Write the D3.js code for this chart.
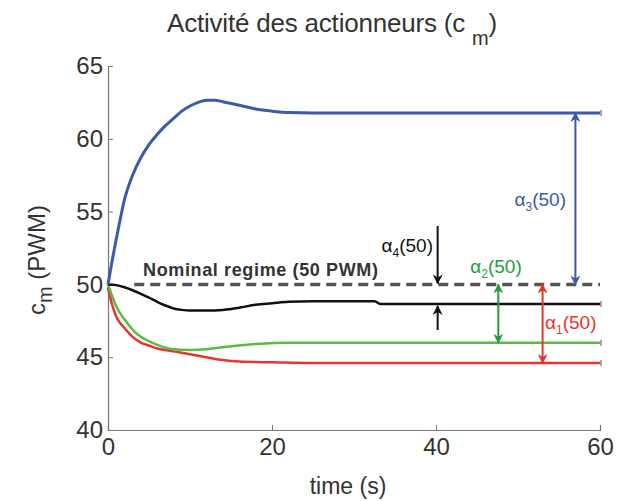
<!DOCTYPE html>
<html>
<head>
<meta charset="utf-8">
<script src="https://cdn.jsdelivr.net/npm/d3@7"></script>
<style>
  body { margin: 0; background: #fff; }
  svg text { font-family: "Liberation Sans", Arial, sans-serif; }
</style>
</head>
<body>
<div id="chart"></div>
<script>
// series (time in s, value in PWM)
const tBlue  = [0, 0.5, 1, 1.5, 2, 3, 4, 5, 6, 7, 8, 9, 10, 11, 12, 13, 14, 16, 18, 20, 22, 25, 60];
const vBlue  = [50, 51.6, 53.1, 54.5, 55.8, 57.5, 58.7, 59.6, 60.3, 60.9, 61.4, 61.9, 62.25, 62.5, 62.65, 62.65, 62.55, 62.3, 62.05, 61.9, 61.8, 61.78, 61.78];
const tBlack = [0, 1, 2, 3, 4, 5, 6, 7, 8, 9, 10, 12, 14, 16, 18, 20, 22, 25, 32.5, 33.2, 60];
const vBlack = [50, 49.95, 49.8, 49.6, 49.35, 49.1, 48.8, 48.55, 48.35, 48.25, 48.2, 48.2, 48.25, 48.4, 48.6, 48.7, 48.8, 48.85, 48.85, 48.65, 48.65];
const tGreen = [0, 0.5, 1, 2, 3, 4, 5, 6, 7, 8, 10, 12, 15, 18, 22, 60];
const vGreen = [50, 49.2, 48.5, 47.6, 46.9, 46.4, 46.1, 45.85, 45.65, 45.55, 45.5, 45.55, 45.75, 45.9, 46.0, 46.0];
const tRed   = [0, 0.5, 1, 2, 3, 4, 5, 6, 8, 10, 12, 14, 16, 20, 25, 60];
const vRed   = [49.8, 48.6, 47.8, 47.0, 46.4, 46.0, 45.8, 45.6, 45.4, 45.2, 45.0, 44.8, 44.7, 44.65, 44.6, 44.6];

const xTicks = [0, 20, 40, 60];
const yTicks = [40, 45, 50, 55, 60, 65];
const nominal = 50;
const nominalStart = 3.2;

// deviation arrows: x position, from, to
const arrows = [
  {t: 57.0, from: 61.78, to: 50, color: "#3c5aa8"},
  {t: 47.6, from: 50, to: 46.0, color: "#249c3c"},
  {t: 53.0, from: 50, to: 44.6, color: "#e8352c"}
];

const width = 621, height = 501;
const margin = {top: 66, right: 21, bottom: 71, left: 108};

const svg = d3.select("#chart").append("svg")
  .attr("width", width)
  .attr("height", height);

const x = d3.scaleLinear().domain([0, 60]).range([margin.left, width - margin.right]);
const y = d3.scaleLinear().domain([40, 65]).range([height - margin.bottom, margin.top]);

const defs = svg.append("defs");
function marker(id, color) {
  defs.append("marker")
    .attr("id", id)
    .attr("viewBox", "0 0 10 10")
    .attr("refX", 9).attr("refY", 5)
    .attr("markerWidth", 5).attr("markerHeight", 5)
    .attr("orient", "auto-start-reverse")
    .append("path").attr("d", "M0,0 L10,5 L0,10 L3,5 Z").attr("fill", color);
}
arrows.forEach((a, i) => marker("arr" + i, a.color));
marker("arrK", "#111");

// axes (left and bottom only, ticks inward)
svg.append("g")
  .attr("transform", `translate(0,${y(40)})`)
  .call(d3.axisBottom(x).tickValues(xTicks).tickSize(-5).tickPadding(8).tickFormat(d3.format("d")))
  .call(g => g.select(".domain").attr("stroke", "#777").attr("stroke-width", 1.2))
  .call(g => g.selectAll(".tick line").attr("stroke", "#777"))
  .call(g => g.selectAll("text").attr("font-size", 24).attr("fill", "#333"));

svg.append("g")
  .attr("transform", `translate(${x(0)},0)`)
  .call(d3.axisLeft(y).tickValues(yTicks).tickSize(-5).tickPadding(5).tickFormat(d3.format("d")))
  .call(g => g.select(".domain").attr("stroke", "#777").attr("stroke-width", 1.2))
  .call(g => g.selectAll(".tick line").attr("stroke", "#777"))
  .call(g => g.selectAll("text").attr("font-size", 24).attr("fill", "#333"));

// nominal regime dashed line
svg.append("line")
  .attr("x1", x(nominalStart)).attr("x2", x(60))
  .attr("y1", y(nominal)).attr("y2", y(nominal))
  .attr("stroke", "#555").attr("stroke-width", 3.5)
  .attr("stroke-dasharray", "10,6");

svg.append("text")
  .attr("x", 143).attr("y", 276)
  .attr("font-size", 18).attr("font-weight", "bold").attr("fill", "#333")
  .attr("textLength", 235)
  .text("Nominal regime (50 PWM)");

const line = d3.line()
  .x(d => x(d[0]))
  .y(d => y(d[1]))
  .curve(d3.curveMonotoneX);

const series = [
  {t: tRed, v: vRed, color: "#e8352c"},
  {t: tGreen, v: vGreen, color: "#5cbb47"},
  {t: tBlack, v: vBlack, color: "#111"},
  {t: tBlue, v: vBlue, color: "#3c5aa8"}
];

series.forEach(s => {
  const pts = d3.zip(s.t, s.v);
  svg.append("path")
    .datum(pts)
    .attr("fill", "none")
    .attr("stroke", s.color)
    .attr("stroke-width", s.color === "#3c5aa8" ? 3 : 2.5)
    .attr("d", line);
  const last = pts[pts.length - 1];
  svg.append("line")
    .attr("x1", x(last[0]) + 1).attr("x2", x(last[0]) + 1)
    .attr("y1", y(last[1]) - 3).attr("y2", y(last[1]) + 3)
    .attr("stroke", "#888").attr("stroke-width", 1.5);
});

// colored double arrows
arrows.forEach((a, i) => {
  svg.append("line")
    .attr("x1", x(a.t)).attr("x2", x(a.t))
    .attr("y1", y(a.from)).attr("y2", y(a.to))
    .attr("stroke", a.color).attr("stroke-width", 2)
    .attr("marker-start", `url(#arr${i})`)
    .attr("marker-end", `url(#arr${i})`);
});

// black arrows for alpha4
const tK = 40.2;
svg.append("line")
  .attr("x1", x(tK)).attr("x2", x(tK))
  .attr("y1", 226).attr("y2", y(nominal) - 1)
  .attr("stroke", "#111").attr("stroke-width", 2)
  .attr("marker-end", "url(#arrK)");
svg.append("line")
  .attr("x1", x(tK)).attr("x2", x(tK))
  .attr("y1", 330).attr("y2", y(48.65) + 2)
  .attr("stroke", "#111").attr("stroke-width", 2)
  .attr("marker-end", "url(#arrK)");

function alphaLabel(px, py, anchor, color, sub) {
  const t = svg.append("text")
    .attr("x", px).attr("y", py)
    .attr("text-anchor", anchor)
    .attr("font-size", 19).attr("fill", color);
  t.append("tspan").text("α");
  t.append("tspan").attr("font-size", 12).attr("dy", 5).text(sub);
  t.append("tspan").attr("dy", -5).text("(50)");
}
alphaLabel(566, 206, "end", "#3c5aa8", "3");
alphaLabel(433, 252, "end", "#111", "4");
alphaLabel(496, 273, "middle", "#249c3c", "2");
alphaLabel(545, 329, "start", "#e8352c", "1");

// title
const title = svg.append("text")
  .attr("x", 332).attr("y", 32)
  .attr("text-anchor", "middle")
  .attr("font-size", 26).attr("fill", "#333")
  .attr("letter-spacing", -0.2);
title.append("tspan").text("Activité des actionneurs (c ");
title.append("tspan").attr("dy", 13).attr("font-size", 20).text("m");
title.append("tspan").attr("dy", -13).text(")");

// x label
svg.append("text")
  .attr("x", 348).attr("y", 494)
  .attr("text-anchor", "middle")
  .attr("font-size", 23).attr("fill", "#333")
  .text("time (s)");

// y label
const yl = svg.append("text")
  .attr("transform", "translate(45,260) rotate(-90)")
  .attr("text-anchor", "middle")
  .attr("font-size", 24).attr("fill", "#333");
yl.append("tspan").text("c");
yl.append("tspan").attr("dy", 7).attr("font-size", 20).text("m");
yl.append("tspan").attr("dy", -7).text(" (PWM)");
</script>
</body>
</html>
